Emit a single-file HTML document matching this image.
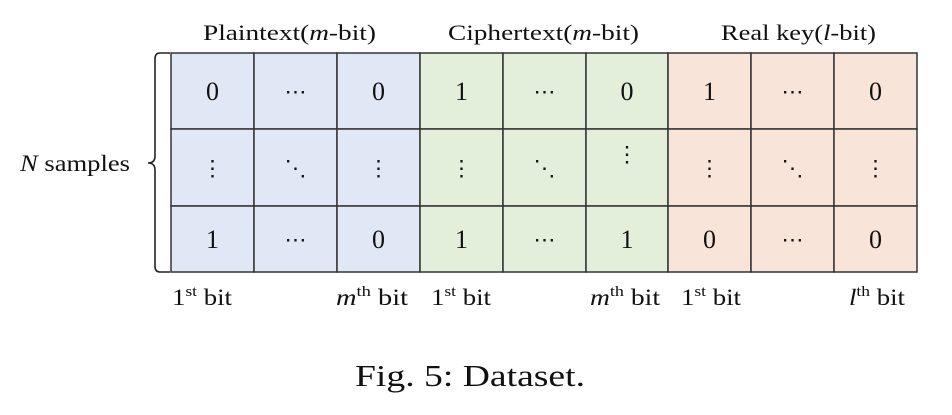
<!DOCTYPE html>
<html><head><meta charset="utf-8"><style>
body{margin:0;background:#fff;width:952px;height:410px;overflow:hidden;font-family:"Liberation Serif",serif;}
svg text{font-family:"Liberation Serif",serif;fill:#111;}
</style></head><body>
<svg width="952" height="410">
<g font-size="22">
<text x="203" y="40" textLength="173" lengthAdjust="spacingAndGlyphs">Plaintext(<tspan font-style="italic">m</tspan>-bit)</text>
<text x="448" y="40" textLength="191" lengthAdjust="spacingAndGlyphs">Ciphertext(<tspan font-style="italic">m</tspan>-bit)</text>
<text x="721" y="40" textLength="155" lengthAdjust="spacingAndGlyphs">Real key(<tspan font-style="italic">l</tspan>-bit)</text>
</g>
<g id="grid"></g>
<path d="M170,53 L160,53 Q155,53 155,59 L155,156 Q155,163 148,163 Q155,163 155,170 L155,266 Q155,272 160,272 L170,272" fill="none" stroke="#222" stroke-width="1.6"/>
<text x="20" y="171" font-size="23" textLength="110" lengthAdjust="spacingAndGlyphs"><tspan font-style="italic">N</tspan> samples</text>
<g font-size="23">
<text x="172" y="305" textLength="60" lengthAdjust="spacingAndGlyphs">1<tspan font-size="15" dy="-9">st</tspan><tspan dy="9"> bit</tspan></text>
<text x="336" y="305" textLength="72" lengthAdjust="spacingAndGlyphs"><tspan font-style="italic">m</tspan><tspan font-size="15" dy="-9">th</tspan><tspan dy="9"> bit</tspan></text>
<text x="431" y="305" textLength="60" lengthAdjust="spacingAndGlyphs">1<tspan font-size="15" dy="-9">st</tspan><tspan dy="9"> bit</tspan></text>
<text x="590" y="305" textLength="70" lengthAdjust="spacingAndGlyphs"><tspan font-style="italic">m</tspan><tspan font-size="15" dy="-9">th</tspan><tspan dy="9"> bit</tspan></text>
<text x="681" y="305" textLength="60" lengthAdjust="spacingAndGlyphs">1<tspan font-size="15" dy="-9">st</tspan><tspan dy="9"> bit</tspan></text>
<text x="849" y="305" textLength="56" lengthAdjust="spacingAndGlyphs"><tspan font-style="italic">l</tspan><tspan font-size="15" dy="-9">th</tspan><tspan dy="9"> bit</tspan></text>
</g>
<text x="355" y="386" font-size="31" textLength="230" lengthAdjust="spacingAndGlyphs">Fig. 5: Dataset.</text>
</svg>
<script>
const cells=[["0","⋯","0","1","⋯","0","1","⋯","0"],["⋮","⋱","⋮","⋮","⋱","⋮","⋮","⋱","⋮"],["1","⋯","0","1","⋯","1","0","⋯","0"]];
const groupColors=["#dfe8f4","#e3eedb","#f8e4d8"];
const g=document.getElementById('grid');
const ns="http://www.w3.org/2000/svg";
const xs=[171,254,337,420,503,586,668,751,834,917];
const ys=[53,129,206,272];
for(let r=0;r<3;r++)for(let c=0;c<9;c++){
 const rect=document.createElementNS(ns,'rect');
 rect.setAttribute('x',xs[c]);rect.setAttribute('y',ys[r]);
 rect.setAttribute('width',xs[c+1]-xs[c]);rect.setAttribute('height',ys[r+1]-ys[r]);
 rect.setAttribute('fill',groupColors[Math.floor(c/3)]);rect.setAttribute('stroke','#333');rect.setAttribute('stroke-width','1.5');
 
 
 g.appendChild(rect);
 const t=document.createElementNS(ns,'text');
 const isDigit=/[01]/.test(cells[r][c]);
 let yOff=(ys[r]+ys[r+1])/2+(isDigit?9:8);
 if(r===1&&c===5)yOff-=14;
 t.setAttribute('x',(xs[c]+xs[c+1])/2);t.setAttribute('y',yOff);
 t.setAttribute('text-anchor','middle');t.setAttribute('font-size',isDigit?'26':'22');
 t.textContent=cells[r][c];
 
 
 g.appendChild(t);
}
</script>
</body></html>
